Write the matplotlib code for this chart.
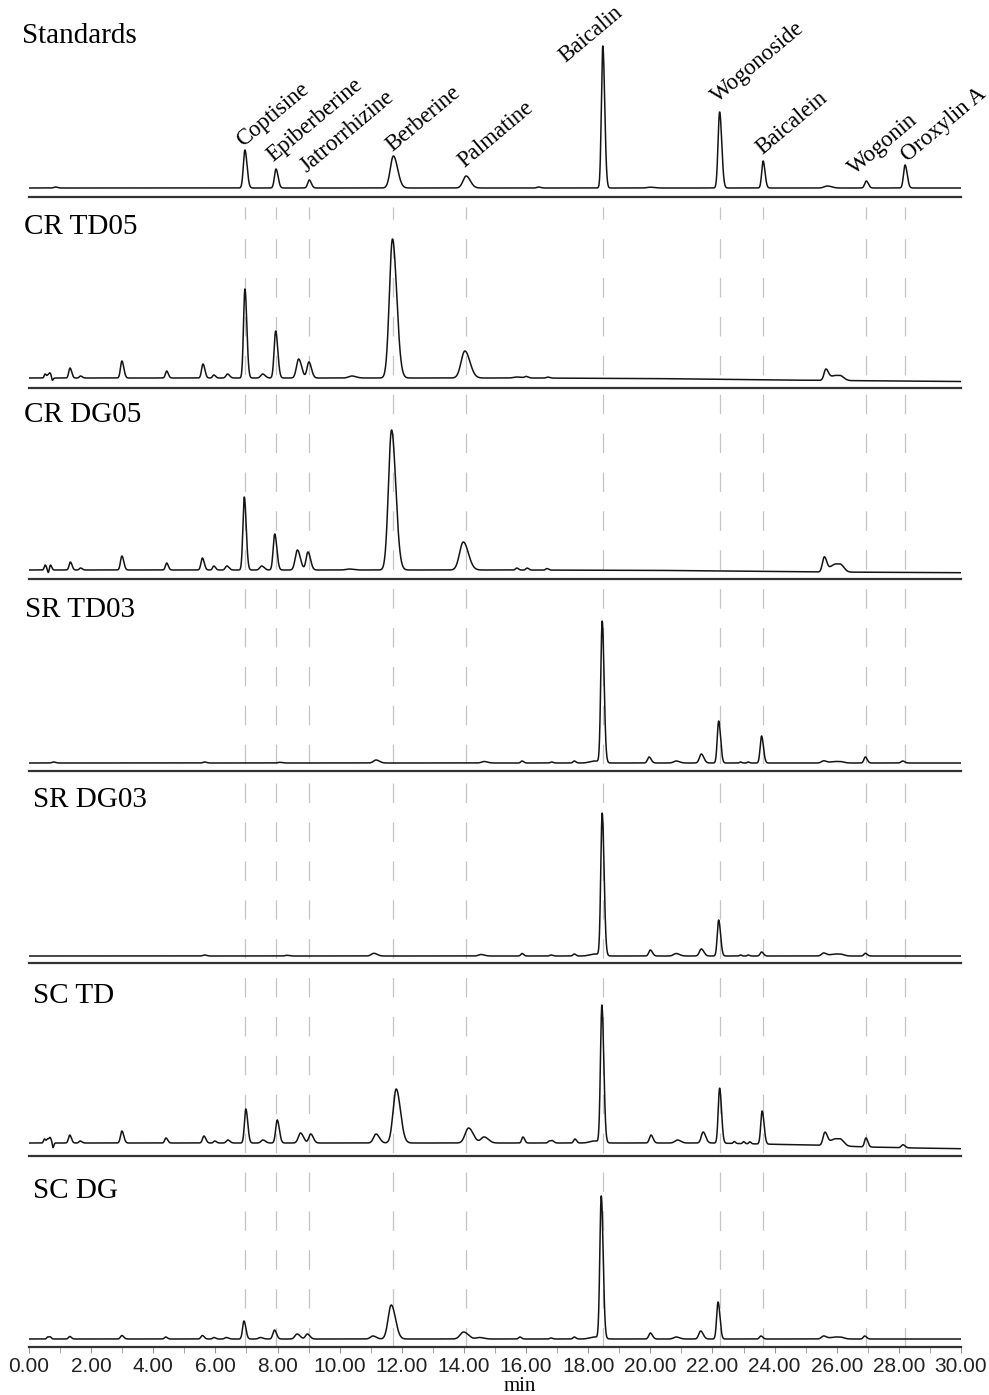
import numpy as np
import matplotlib
matplotlib.use("Agg")
import matplotlib.pyplot as plt
from matplotlib.ticker import MultipleLocator, FormatStrFormatter

plt.rcParams["lines.scale_dashes"] = False

# Reference compounds (retention time, min)
compounds = ["Coptisine", "Epiberberine", "Jatrorrhizine", "Berberine", "Palmatine",
             "Baicalin", "Wogonoside", "Baicalein", "Wogonin", "Oroxylin A"]
ref_times = [6.95, 7.95, 9.02, 11.73, 14.07, 18.47, 22.23, 23.63, 26.95, 28.2]

# label anchor (min, px above panel bottom) for the compound names
label_x = [6.89, 7.85, 8.92, 11.68, 14.0, 17.25, 22.18, 23.59, 26.59, 28.29]
label_y = [50, 35, 24, 45, 29, 134, 94, 42, 22, 35]

panel_names = ["Standards", "CR TD05", "CR DG05", "SR TD03", "SR DG03", "SC TD", "SC DG"]

# peaks: (time min, height, width min)
std_peaks = [(0.85, 1, .05), (6.95, 38, .05), (7.95, 19, .05), (9.02, 8, .05), (11.73, 32, .1),
             (14.07, 12, .1), (16.4, 1, .05), (18.47, 142, .045), (20.0, 0.8, .1),
             (22.23, 76, .05), (23.63, 27, .045), (25.7, 2, .1), (26.95, 7, .05), (28.2, 23, .05)]
crtd_peaks = [(0.52, 4, .03), (0.62, 3, .03), (0.68, 4, .03), (0.75, -3, .02), (1.32, 10, .04),
              (1.66, 2, .04), (2.99, 17, .045), (4.43, 7, .04), (5.6, 14, .045), (5.95, 3, .04),
              (6.39, 4, .05), (6.95, 89, .045), (7.52, 4, .06), (7.94, 47, .05), (8.68, 19, .07),
              (9.01, 16, .06), (10.39, 2, .1), (11.7, 139, .1), (14.03, 27, .12), (15.7, 1, .1),
              (16.0, 1.5, .05), (16.7, 1, .05), (25.65, 11, .06), (25.85, 3, .1), (26.0, 3, .1),
              (26.15, 2.8, .08)]
crdg_peaks = [(0.52, 5, .03), (0.62, -3, .02), (0.69, 5, .03), (1.33, 8, .04), (1.66, 2, .04),
              (2.99, 14, .045), (4.43, 7, .04), (5.58, 12, .045), (5.95, 4, .04), (6.37, 4, .05),
              (6.93, 73, .045), (7.49, 4, .06), (7.91, 36, .05), (8.64, 20, .07), (8.98, 18, .06),
              (10.3, 1, .1), (11.67, 140, .1), (13.98, 28, .12), (15.7, 2, .04), (16.03, 2, .04),
              (16.67, 1.5, .04), (25.6, 15, .06), (25.85, 4.8, .1), (26.0, 4.8, .1),
              (26.15, 4.5, .08)]
srtd_peaks = [(0.79, 1, .05), (5.65, 1, .05), (8.07, 0.7, .05), (11.17, 3, .08), (14.65, 1.5, .08),
              (15.87, 2, .04), (16.82, 1, .04), (17.55, 2, .04), (18.2, 2, .15), (18.45, 141, .045),
              (19.96, 6, .05), (20.83, 2, .08), (21.64, 9, .06), (22.2, 42, .045), (22.9, 1, .03),
              (23.15, 1, .03), (23.58, 27, .045), (25.58, 2.2, .07), (25.85, 0.9, .1),
              (26.0, 0.9, .1), (26.15, 0.8, .08), (26.92, 6, .045), (28.12, 2, .05)]
srdg_peaks = [(5.65, 1, .05), (8.3, 0.7, .05), (11.1, 2.7, .08), (14.55, 1.5, .08), (15.87, 2.5, .04),
              (16.8, 1, .04), (17.55, 2, .04), (18.2, 2, .15), (18.45, 142, .045), (20.0, 6, .05),
              (20.83, 2.5, .08), (21.64, 7, .06), (22.2, 36, .045), (22.9, 1, .03), (23.15, 1, .03),
              (23.58, 4, .045), (25.58, 3, .07), (25.85, 1.2, .1), (26.0, 1.2, .1),
              (26.15, 1.1, .08), (26.92, 2.7, .045)]
sctd_peaks = [(0.5, 4, .03), (0.6, 4, .03), (0.68, 5, .03), (0.77, -5, .02), (1.31, 8, .04),
              (1.65, 2, .04), (2.99, 12, .045), (4.41, 5, .04), (5.63, 7, .045), (5.98, 2, .04),
              (6.4, 3, .05), (6.98, 34, .045), (7.53, 3, .06), (7.99, 23, .05), (8.74, 10, .07),
              (9.07, 9, .06), (11.17, 9, .08), (11.82, 54, .1), (14.15, 15, .11), (14.65, 6, .1),
              (15.9, 6, .04), (16.75, 2, .04), (16.85, 2, .04), (17.57, 4, .04), (18.2, 2, .15),
              (18.44, 137, .045), (20.02, 8, .05), (20.87, 3, .08), (21.7, 11, .06),
              (22.23, 55, .045), (22.7, 2, .03), (23.0, 2, .03), (23.2, 2, .03), (23.6, 33, .045),
              (25.62, 13, .06), (25.85, 4.2, .1), (26.0, 4.2, .1), (26.15, 4, .08),
              (26.94, 9, .045), (28.13, 3, .05)]
scdg_peaks = [(0.6, 2, .03), (0.68, 2, .03), (1.31, 2.5, .04), (2.99, 3.5, .045), (4.4, 2, .04),
              (5.58, 3.5, .045), (5.95, 1.5, .04), (6.35, 1.5, .05), (6.92, 18, .045),
              (7.45, 1.5, .06), (7.9, 9, .05), (8.63, 5, .07), (8.96, 5, .06), (11.07, 3, .08),
              (11.66, 34, .1), (13.99, 7, .11), (14.5, 1.5, .1), (15.8, 2, .04), (16.8, 1, .04),
              (17.55, 2, .04), (18.2, 2, .15), (18.42, 142, .045), (20.0, 6, .05), (20.83, 2, .08),
              (21.62, 8, .06), (22.18, 37, .045), (23.56, 3, .045), (25.58, 3, .07),
              (25.85, 1.2, .1), (26.0, 1.2, .1), (26.15, 1.1, .08), (26.9, 3, .045)]

# baseline drift (time, offset) and baseline height above panel bottom
crtd_drift = [(0, 0), (16, 0), (20, -0.5), (24, -2), (30, -3.5)]
crdg_drift = [(0, 0), (15, 0), (20, -0.3), (25.5, -2), (30, -2.7)]
sctd_drift = [(0, 0), (22, 0), (24, -1.3), (25.5, -2.3), (27, -4), (28.5, -5), (30, -5.7)]
flat = [(0, 0), (30, 0)]

all_peaks = [std_peaks, crtd_peaks, crdg_peaks, srtd_peaks, srdg_peaks, sctd_peaks, scdg_peaks]
all_drift = [flat, crtd_drift, crdg_drift, flat, flat, sctd_drift, flat]
base_off = [9, 10, 9, 8, 7, 13, 8]

# panel edges in pixels from the top of the figure
edges = [0, 197, 388, 579, 771, 963, 1156, 1347]
label_base = [43, 37, 34, 38, 36, 40, 42]
label_left = [22, 24, 24, 25, 33, 33, 33]

W, H = 989, 1395
x0, x1 = 29, 961
t = np.linspace(0, 30, 9001)


def trace(peaks, drift, off):
    y = np.full_like(t, off, dtype=float)
    dt, dv = zip(*drift)
    y += np.interp(t, dt, dv)
    for tc, h, w in peaks:
        s = np.where(t < tc, w, w * 1.35)
        y += h * np.exp(-0.5 * ((t - tc) / s) ** 2)
    return y


fig = plt.figure(figsize=(W / 100, H / 100), dpi=100)

# dashed reference lines behind the panels
ov = fig.add_axes([x0 / W, 1 - 1347 / H, (x1 - x0) / W, (1347 - 207) / H], zorder=0)
ov.set_xlim(0, 30)
ov.set_ylim(0, 1)
ov.axis("off")
for rt in ref_times:
    ov.axvline(rt, color="#c4c4c4", lw=0.9, dashes=(14, 14))

for i, name in enumerate(panel_names):
    top, bot = edges[i], edges[i + 1]
    ax = fig.add_axes([x0 / W, 1 - bot / H, (x1 - x0) / W, (bot - top) / H], zorder=1)
    ax.set_facecolor("none")
    ax.set_xlim(0, 30)
    ax.set_ylim(0, bot - top)
    ax.plot(t, trace(all_peaks[i], all_drift[i], base_off[i]), color="#141414", lw=1.1)
    for s in ["top", "left", "right"]:
        ax.spines[s].set_visible(False)
    ax.spines["bottom"].set_color("#333333")
    ax.spines["bottom"].set_linewidth(1.6)
    ax.set_yticks([])
    fig.text((label_left[i]) / W, 1 - (top + label_base[i]) / H, name,
             family="Liberation Serif", fontsize=21, ha="left", va="baseline")
    if i == 0:
        for c, lx, ly in zip(compounds, label_x, label_y):
            ax.text(lx, ly, c, rotation=40, rotation_mode="anchor", ha="left",
                    va="baseline", family="Liberation Serif", fontsize=16.5)
    if i < len(panel_names) - 1:
        ax.set_xticks([])
    else:
        ax.xaxis.set_major_locator(MultipleLocator(2))
        ax.xaxis.set_minor_locator(MultipleLocator(1))
        ax.xaxis.set_major_formatter(FormatStrFormatter("%.2f"))
        ax.tick_params(axis="x", which="both", direction="out", length=4, color="#999999",
                       labelsize=15, pad=3, labelcolor="#222222")
        for lab in ax.get_xticklabels():
            lab.set_family("Liberation Sans")

fig.text(520 / W, 1 - 1391 / H, "min", family="Liberation Serif", fontsize=15,
         ha="center", va="baseline")

fig.savefig("out.png", dpi=100)
